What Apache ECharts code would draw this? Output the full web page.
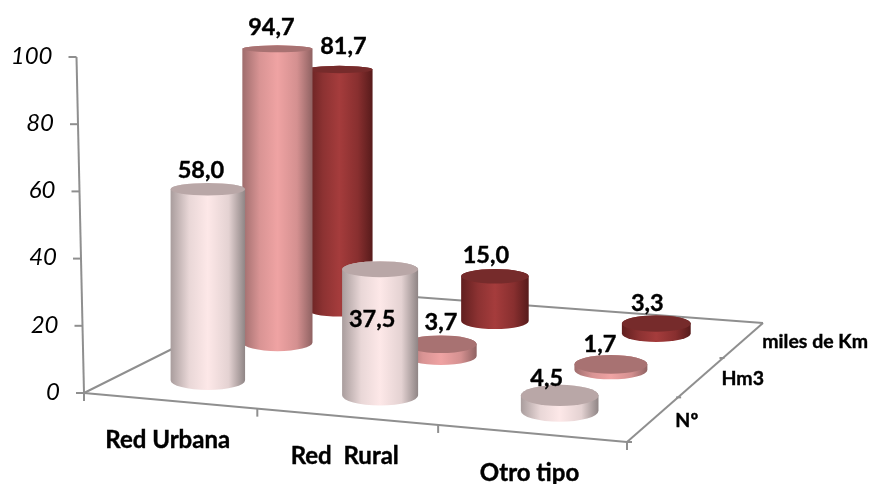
<!DOCTYPE html>
<html>
<head>
<meta charset="utf-8">
<title>Red</title>
<script src="https://cdn.jsdelivr.net/npm/echarts@6/dist/echarts.min.js"></script>
<style>
  html, body { margin: 0; padding: 0; background: #fff; }
  #chart { width: 869px; height: 484px; }
</style>
</head>
<body>
<div id="chart"></div>
<script>
const categories = ['Red Urbana', 'Red  Rural', 'Otro tipo'];
const depthLabels = ['Nº', 'Hm3', 'miles de Km'];
const tickValues = [0, 20, 40, 60, 80, 100];
const valuesNumero = [58.0, 37.5, 4.5];
const valuesHm3 = [94.7, 3.7, 1.7];
const valuesKm = [81.7, 15.0, 3.3];

// floor of the 3D box in pixels: front-left, front-right, back-right, back-left
const floorQuad = [[84, 393], [627, 442], [758, 323], [294, 288]];
const axisColor = '#8f8f8f';
const FONT = 'Lato';

const palettes = [
  { edgeL: '#a99d9d', near: '#e9d7d7', mid: '#fde8e8', far: '#e4d2d2', edgeR: '#8f8585', cap: '#b9a7a7' },
  { edgeL: '#9f6d6d', near: '#d99494', mid: '#efa3a3', far: '#d49090', edgeR: '#8f6262', cap: '#a87272' },
  { edgeL: '#611f1f', near: '#8c3232', mid: '#a53c3c', far: '#882f2f', edgeR: '#571b1b', cap: '#762b2b' }
];
// label nudges from the centre of each top cap, by depth then category
const labelShift = [
  [[-7, -19], [-8, 50], [-13, -17]],
  [[-6, -21], [0, -22], [-11, -20]],
  [[4, -23], [-9, -21], [-9, -20]]
];

// square to quad perspective mapping
const homography = (function () {
  const [p0, p1, p2, p3] = floorQuad;
  const dx1 = p1[0] - p2[0], dx2 = p3[0] - p2[0], sx = p0[0] - p1[0] + p2[0] - p3[0];
  const dy1 = p1[1] - p2[1], dy2 = p3[1] - p2[1], sy = p0[1] - p1[1] + p2[1] - p3[1];
  const den = dx1 * dy2 - dx2 * dy1;
  const g = (sx * dy2 - dx2 * sy) / den;
  const h = (dx1 * sy - sx * dy1) / den;
  return {
    g, h,
    a: p1[0] - p0[0] + g * p1[0], b: p3[0] - p0[0] + h * p3[0], c: p0[0],
    d: p1[1] - p0[1] + g * p1[1], e: p3[1] - p0[1] + h * p3[1], f: p0[1]
  };
})();

function project(api, cat, depth, val) {
  const H = homography;
  const width = api.coord([categories.length, 0])[0] - api.coord([0, 0])[0];
  const u = (api.coord([cat, 0])[0] - api.coord([0, 0])[0]) / width;
  const v = depth / depthLabels.length;
  const w = H.g * u + H.h * v + 1;
  const height = (api.coord([0, 0])[1] - api.coord([0, val])[1]) / w;
  return {
    x: (H.a * u + H.b * v + H.c) / w,
    y: (H.d * u + H.e * v + H.f) / w - height,
    w: w
  };
}

const ellipseRy = (rx, y) => rx * 0.0005 * (y + 150);

function textEl(x, y, text, size, opts) {
  return {
    type: 'text',
    z2: 50,
    style: Object.assign({
      x: x, y: y, text: text, fill: '#000', stroke: '#000', lineWidth: 0.4, fontFamily: FONT,
      fontSize: size, fontWeight: 'bold', align: 'center', verticalAlign: 'middle'
    }, opts || {})
  };
}

function lineEl(x1, y1, x2, y2) {
  return {
    type: 'line',
    shape: { x1, y1, x2, y2 },
    style: { stroke: axisColor, lineWidth: 2 }
  };
}

function renderFrame(params, api) {
  const els = [];
  const nCat = categories.length, nDepth = depthLabels.length;
  const corner = (c, d) => project(api, c, d, 0);
  const fl = corner(0, 0), fr = corner(nCat, 0), br = corner(nCat, nDepth), bl = corner(0, nDepth);
  els.push(lineEl(fl.x, fl.y, fr.x, fr.y));
  els.push(lineEl(fr.x, fr.y, br.x + 5, br.y));
  els.push(lineEl(br.x + 5, br.y, bl.x, bl.y));
  els.push(lineEl(bl.x, bl.y, fl.x, fl.y));

  // value axis leans slightly to the left on its way up
  const lean = 0.075;
  const top = project(api, 0, 0, 100);
  els.push(lineEl(fl.x, fl.y, top.x - lean * 100, top.y));
  tickValues.forEach(function (t) {
    const p = project(api, 0, 0, t);
    const x = p.x - lean * t;
    els.push(lineEl(x - 8, p.y, x, p.y));
    els.push(textEl(x - 24, p.y - 1, String(t), 24, {
      align: 'right', fontStyle: 'italic', fontWeight: 'normal', stroke: null
    }));
  });

  for (let c = 0; c <= nCat; c++) {
    const p = corner(c, 0);
    els.push(lineEl(p.x, p.y, p.x, p.y + 8));
  }
  for (let d = 0; d < nDepth; d++) {
    const p = corner(nCat, d);
    els.push(lineEl(p.x, p.y, p.x + 5, p.y));
  }
  categories.forEach(function (name, c) {
    const p = corner(c + 0.5, 0);
    els.push(textEl(p.x - 2, p.y + 40, name, 24));
  });
  depthLabels.forEach(function (name, d) {
    const p = corner(nCat, d + 0.5);
    els.push(textEl(p.x + 23, p.y + 1.5, name, 19.5, { align: 'left' }));
  });
  return { type: 'group', children: els };
}

function cylinderRenderer(depth) {
  const pal = palettes[depth];
  return function (params, api) {
    const cat = api.value(0);
    const val = api.value(1);
    const base = project(api, cat + 0.5, depth + 0.5, 0);
    const topP = project(api, cat + 0.5, depth + 0.5, val);
    const rx = api.size([1, 0])[0] * 0.21 / base.w;
    const ryB = ellipseRy(rx, base.y);
    const ryT = ellipseRy(rx, topP.y);
    const x = base.x;
    const body = 'M' + (x - rx) + ' ' + topP.y +
      ' L' + (x - rx) + ' ' + base.y +
      ' A' + rx + ' ' + ryB + ' 0 0 0 ' + (x + rx) + ' ' + base.y +
      ' L' + (x + rx) + ' ' + topP.y +
      ' A' + rx + ' ' + ryT + ' 0 0 0 ' + (x - rx) + ' ' + topP.y + ' Z';
    const cap = 'M' + (x - rx) + ' ' + topP.y +
      ' A' + rx + ' ' + ryT + ' 0 0 1 ' + (x + rx) + ' ' + topP.y +
      ' A' + rx + ' ' + ryT + ' 0 0 1 ' + (x - rx) + ' ' + topP.y + ' Z';
    const shift = labelShift[depth][params.dataIndex];
    return {
      type: 'group',
      children: [
        {
          type: 'path',
          shape: { pathData: body, layout: 'cover',
            x: x - rx, y: topP.y - ryT, width: 2 * rx, height: base.y + ryB - topP.y + ryT },
          style: {
            fill: new echarts.graphic.LinearGradient(0, 0, 1, 0, [
              { offset: 0, color: pal.edgeL },
              { offset: 0.25, color: pal.near },
              { offset: 0.5, color: pal.mid },
              { offset: 0.78, color: pal.far },
              { offset: 1, color: pal.edgeR }
            ])
          }
        },
        {
          type: 'path',
          shape: { pathData: cap, layout: 'cover',
            x: x - rx, y: topP.y - ryT, width: 2 * rx, height: 2 * ryT },
          style: { fill: pal.cap }
        },
        textEl(x + shift[0], topP.y + shift[1], val.toFixed(1).replace('.', ','), 23.5)
      ]
    };
  };
}

function cylinderSeries(name, depth, values) {
  return {
    type: 'custom',
    name: name,
    coordinateSystem: 'cartesian2d',
    renderItem: cylinderRenderer(depth),
    data: values.map((v, i) => [i, v]),
    animation: false,
    silent: true
  };
}

const chart = echarts.init(document.getElementById('chart'));
chart.setOption({
  backgroundColor: '#fff',
  animation: false,
  grid: { left: 84, top: 57, width: 543, height: 336 },
  xAxis: { type: 'value', min: 0, max: categories.length, show: false },
  yAxis: { type: 'value', min: 0, max: 100, interval: 20, show: false },
  series: [
    {
      type: 'custom',
      name: 'frame',
      coordinateSystem: 'cartesian2d',
      renderItem: renderFrame,
      data: [[0, 0]],
      animation: false,
      silent: true
    },
    // drawn back to front so nearer cylinders cover the ones behind
    cylinderSeries(depthLabels[2], 2, valuesKm),
    cylinderSeries(depthLabels[1], 1, valuesHm3),
    cylinderSeries(depthLabels[0], 0, valuesNumero)
  ]
});
window.addEventListener('resize', function () { chart.resize(); });
</script>
</body>
</html>
